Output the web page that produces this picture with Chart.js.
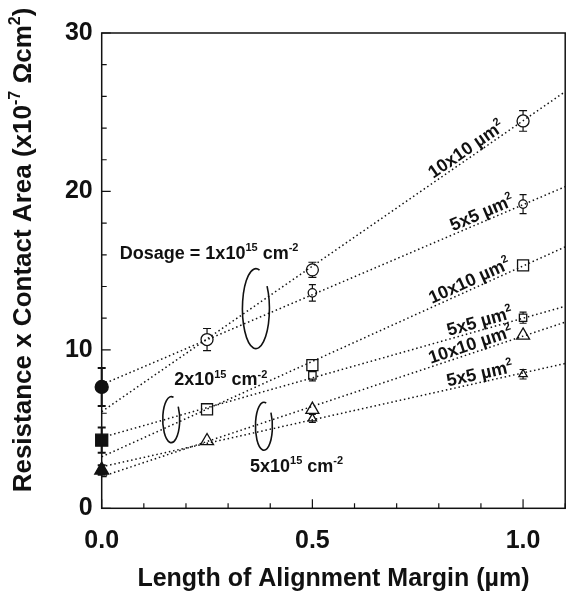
<!DOCTYPE html>
<html>
<head>
<meta charset="utf-8">
<script src="https://cdn.jsdelivr.net/npm/chart.js@4.4.1/dist/chart.umd.min.js"></script>
<style>
  html, body { margin: 0; padding: 0; background: #fff; overflow: hidden; }
  #wrap { width: 575px; height: 600px; position: relative; }
  canvas { display: block; }
</style>
</head>
<body>
<div id="wrap"><canvas id="chart"></canvas></div>
<script>
// --- Data ---
// fitted lines, value at x = 0 and at the right edge (x = 1.1)
const fitX = [0, 1.1];
const fitStartY = [6.1, 7.8, 3.25, 4.47, 2.0, 2.62];
const fitEndY = [26.3, 20.3, 16.5, 12.75, 11.75, 9.14];
const fitLabels = ['10x10 µm', '5x5 µm', '10x10 µm', '5x5 µm', '10x10 µm', '5x5 µm'];

// measured points (open markers), 10x10 = big, 5x5 = small
const circle10X = [0.25, 0.5, 1.0];
const circle10Y = [10.65, 15.05, 24.45];
const circle10Err = [0.7, 0.48, 0.65];
const circle5X = [0.5, 1.0];
const circle5Y = [13.6, 19.2];
const circle5Err = [0.52, 0.6];
const square10X = [0.25, 0.5, 1.0];
const square10Y = [6.25, 9.04, 15.33];
const square5X = [0.5, 1.0];
const square5Y = [8.39, 12.03];
const square5Err = [0.35, 0.35];
const tri10X = [0.25, 0.5, 1.0];
const tri10Y = [4.25, 6.23, 10.91];
const tri5X = [0.5, 1.0];
const tri5Y = [5.67, 8.46];
const tri5Err = [0.25, 0.3];

// filled markers on the axis (x = 0): circle, square, triangle
const zeroX = [0];
const zeroY = [7.66, 4.3, 2.41];
const zeroErr = [1.2, 0.8, 0.3];

// axes
const xTickValues = [0, 0.5, 1.0];
const yTickValues = [0, 10, 20, 30];
const xTitle = 'Length of Alignment Margin (µm)';

// --- Styling ---
const FONT = '"Liberation Sans", Arial, Helvetica, sans-serif';
const INK = '#111';

function pts(xs, ys) {
    return xs.map((x, i) => ({ x: x, y: ys[i] }));
}

function fitSet(i) {
    return {
        data: pts(fitX, [fitStartY[i], fitEndY[i]]),
        showLine: true, pointRadius: 0, borderColor: '#111', borderWidth: 1.5,
        borderDash: [1.5, 2.8], fill: false
    };
}

function markerSet(data, style, r, filled, errors, capW) {
    return {
        data: data, showLine: false, clip: false,
        pointStyle: style, pointRadius: r, pointHoverRadius: r,
        pointBackgroundColor: filled ? INK : '#fff', pointBorderColor: INK,
        pointBorderWidth: 1.3, errors: errors, capW: capW, errW: filled ? 2 : 1.2
    };
}

// rich text: parts = [[text, isSup], ...]
function richWidth(ctx, parts, size) {
    let w = 0;
    parts.forEach(p => {
        ctx.font = 'bold ' + (p[1] ? Math.round(size * 0.62) : size) + 'px ' + FONT;
        w += ctx.measureText(p[0]).width;
    });
    return w;
}
function drawRich(ctx, parts, x, y, size) {
    let cx = x;
    parts.forEach(p => {
        ctx.font = 'bold ' + (p[1] ? Math.round(size * 0.62) : size) + 'px ' + FONT;
        ctx.fillText(p[0], cx, p[1] ? y - size * 0.42 : y);
        cx += ctx.measureText(p[0]).width;
    });
}

// annotation placement (data coordinates)
const doseNotes = [
    { x: 0.043, y: 15.76, parts: [['Dosage = 1x10'], ['15', 1], [' cm'], ['-2', 1]] },
    { x: 0.172, y: 7.76, parts: [['2x10'], ['15', 1], [' cm'], ['-2', 1]] },
    { x: 0.352, y: 2.3, parts: [['5x10'], ['15', 1], [' cm'], ['-2', 1]] }
];
const loops = [
    { x: 0.366, y: 12.6, rx: 13.5, ry: 40 },
    { x: 0.165, y: 5.6, rx: 8.5, ry: 23 },
    { x: 0.385, y: 5.18, rx: 8.5, ry: 24 }
];
const labelEndX = [0.962, 0.984, 0.976, 0.98, 0.98, 0.98];

const decor = {
    id: 'decor',
    beforeDatasetsDraw(chart) {
        const ctx = chart.ctx, xs = chart.scales.x, ys = chart.scales.y;
        ctx.save();
        ctx.strokeStyle = INK;
        chart.data.datasets.forEach(ds => {
            if (!ds.errors) return;
            ctx.lineWidth = ds.errW;
            ds.data.forEach((p, i) => {
                const e = ds.errors[i];
                if (!e) return;
                const px = xs.getPixelForValue(p.x);
                const top = ys.getPixelForValue(p.y + e), bot = ys.getPixelForValue(p.y - e);
                ctx.beginPath();
                ctx.moveTo(px, top); ctx.lineTo(px, bot);
                ctx.moveTo(px - ds.capW, top); ctx.lineTo(px + ds.capW, top);
                ctx.moveTo(px - ds.capW, bot); ctx.lineTo(px + ds.capW, bot);
                ctx.stroke();
            });
        });
        ctx.restore();
    },
    afterDatasetsDraw(chart) {
        const ctx = chart.ctx, a = chart.chartArea;
        const xs = chart.scales.x, ys = chart.scales.y;
        ctx.save();
        ctx.strokeStyle = INK;
        ctx.fillStyle = INK;

        // frame
        ctx.lineWidth = 1.5;
        ctx.strokeRect(a.left, a.top, a.right - a.left, a.bottom - a.top);

        // inward ticks
        ctx.lineWidth = 1.2;
        ctx.beginPath();
        for (let k = 0; k <= 11; k++) {
            const px = xs.getPixelForValue(k / 10);
            const len = k % 5 === 0 ? 9 : 5;
            ctx.moveTo(px, a.bottom); ctx.lineTo(px, a.bottom - len);
        }
        for (let v = 0; v <= 30; v += 2) {
            const py = ys.getPixelForValue(v);
            const len = v % 10 === 0 ? 9 : 5;
            ctx.moveTo(a.left, py); ctx.lineTo(a.left + len, py);
        }
        ctx.stroke();

        // grouping loops
        ctx.lineWidth = 1.6;
        loops.forEach(l => {
            ctx.beginPath();
            ctx.ellipse(xs.getPixelForValue(l.x), ys.getPixelForValue(l.y), l.rx, l.ry, 0,
                -0.6, 2 * Math.PI - 1.3);
            ctx.stroke();
        });

        // dose notes
        ctx.textBaseline = 'alphabetic';
        ctx.textAlign = 'left';
        doseNotes.forEach(n => {
            drawRich(ctx, n.parts, xs.getPixelForValue(n.x), ys.getPixelForValue(n.y), 18);
        });

        // labels along the fitted lines
        fitLabels.forEach((t, i) => {
            const x1 = xs.getPixelForValue(fitX[0]), y1 = ys.getPixelForValue(fitStartY[i]);
            const x2 = xs.getPixelForValue(fitX[1]), y2 = ys.getPixelForValue(fitEndY[i]);
            const ang = Math.atan2(y2 - y1, x2 - x1);
            const xe = labelEndX[i];
            const ye = fitStartY[i] + (fitEndY[i] - fitStartY[i]) * (xe - fitX[0]) / (fitX[1] - fitX[0]);
            const parts = [[t], ['2', 1]];
            const w = richWidth(ctx, parts, 18);
            ctx.save();
            ctx.translate(xs.getPixelForValue(xe), ys.getPixelForValue(ye));
            ctx.rotate(ang);
            drawRich(ctx, parts, -w, -3, 18);
            ctx.restore();
        });

        // y axis title
        const yParts = [['Resistance x Contact Area (x10'], ['-7', 1], [' Ωcm'], ['2', 1], [')']];
        const yw = richWidth(ctx, yParts, 26);
        ctx.save();
        ctx.translate(31, 250);
        ctx.rotate(-Math.PI / 2);
        drawRich(ctx, yParts, -yw / 2, 0, 26);
        ctx.restore();

        ctx.restore();
    }
};

const datasets = [];
for (let i = 0; i < fitStartY.length; i++) datasets.push(fitSet(i));
datasets.push(markerSet(pts(circle10X, circle10Y), 'circle', 6, false, circle10Err, 4));
datasets.push(markerSet(pts(circle5X, circle5Y), 'circle', 4.2, false, circle5Err, 3.5));
datasets.push(markerSet(pts(square10X, square10Y), 'rect', 7.8, false, null, 0));
datasets.push(markerSet(pts(square5X, square5Y), 'rect', 5.2, false, square5Err, 3.5));
datasets.push(markerSet(pts(tri10X, tri10Y), 'triangle', 7.5, false, null, 0));
datasets.push(markerSet(pts(tri5X, tri5Y), 'triangle', 4.8, false, tri5Err, 3.5));
datasets.push(markerSet(pts(zeroX, [zeroY[0]]), 'circle', 6.5, true, [zeroErr[0]], 4));
datasets.push(markerSet(pts(zeroX, [zeroY[1]]), 'rect', 8.5, true, [zeroErr[1]], 4));
datasets.push(markerSet(pts(zeroX, [zeroY[2]]), 'triangle', 8, true, [zeroErr[2]], 4));

new Chart(document.getElementById('chart'), {
    type: 'scatter',
    data: { datasets: datasets },
    options: {
        responsive: true, maintainAspectRatio: false, animation: false,
        layout: { padding: { top: 33, right: 5, left: 0, bottom: 0 } },
        plugins: { legend: { display: false }, tooltip: { enabled: false } },
        scales: {
            x: {
                type: 'linear', min: 0, max: 1.1,
                grid: { display: false, drawTicks: false },
                border: { display: false },
                afterBuildTicks: s => { s.ticks = xTickValues.map(v => ({ value: v })); },
                afterFit: s => { s.height = 91.7; s.paddingLeft = 0; s.paddingRight = 0; },
                ticks: {
                    color: INK, padding: 18, maxRotation: 0,
                    font: { family: FONT, size: 25, weight: 'bold' },
                    callback: v => Number(v).toFixed(1)
                },
                title: {
                    display: true, text: xTitle, color: INK,
                    font: { family: FONT, size: 25, weight: 'bold' },
                    padding: { top: 0, bottom: 6 }
                }
            },
            y: {
                type: 'linear', min: 0, max: 30,
                grid: { display: false, drawTicks: false },
                border: { display: false },
                afterBuildTicks: s => { s.ticks = yTickValues.map(v => ({ value: v })); },
                afterFit: s => { s.width = 101.7; s.paddingTop = 0; s.paddingBottom = 0; },
                ticks: {
                    color: INK, padding: 9,
                    font: { family: FONT, size: 25, weight: 'bold' }
                }
            }
        }
    },
    plugins: [decor]
});
</script>
</body>
</html>
